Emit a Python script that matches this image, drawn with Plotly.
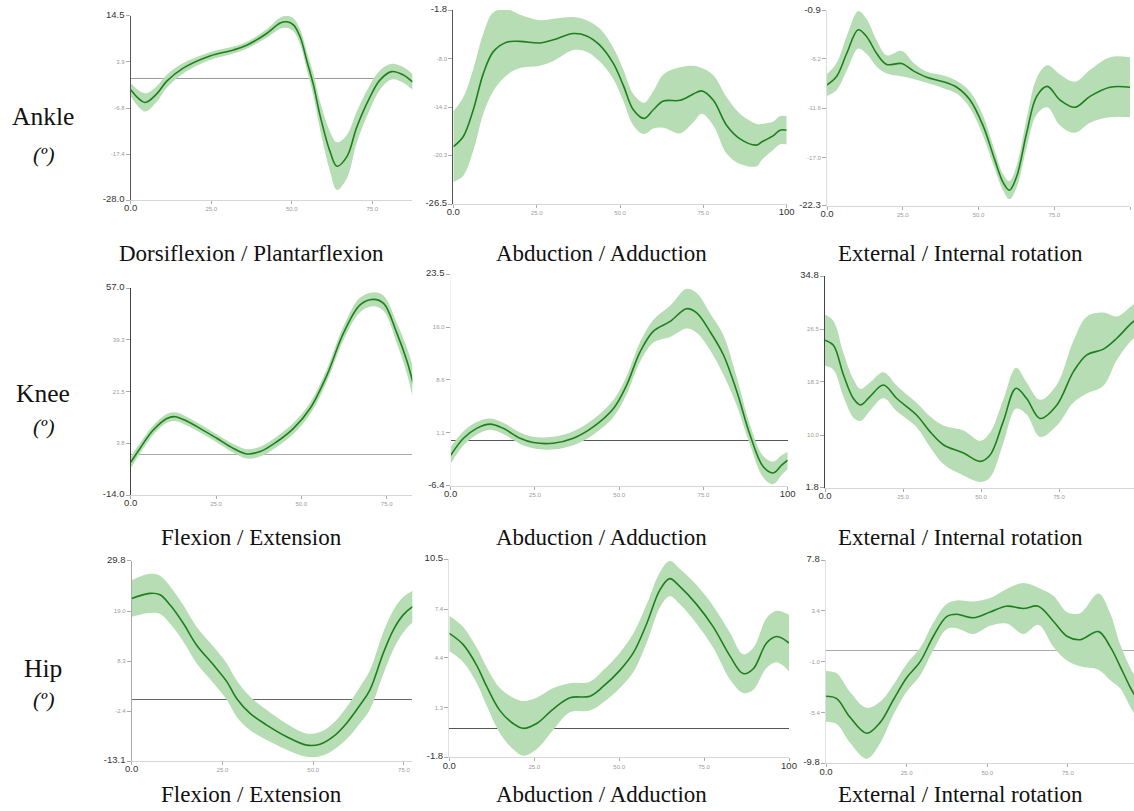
import plotly.graph_objects as go

# ---------------------------------------------------------------------------
# Gait-cycle joint angles (% of cycle on x, degrees on y): mean curve and SD
# ---------------------------------------------------------------------------

# Ankle - dorsiflexion / plantarflexion
ankle_dp_x = [0, 4.4, 8, 11.2, 16.3, 24.6, 31.9, 36, 42.2, 46.4, 48.5, 50.5, 52.6, 54.7,
              56.7, 58.8, 61.9, 64, 67.1, 70.2, 74.3, 77.4, 81, 84.7, 87.4, 90]
ankle_dp_mean = [-2.6, -5.5, -3.6, -0.6, 2.4, 5.2, 6.6, 7.7, 10.4, 12.8, 13.1, 12.4, 9.6, 4.0,
                 -1.4, -8.6, -16.9, -20.2, -18.0, -11.1, -4.2, -0.3, 1.6, 0.8, -0.7, -2.0]
ankle_dp_sd = [1.5, 2.1, 1.8, 1.5, 1.2, 0.9, 0.8, 0.8, 1.0, 1.3, 1.4, 1.5, 1.7, 2.1,
               2.6, 3.2, 4.6, 5.5, 5.0, 3.6, 2.8, 2.2, 1.8, 1.8, 1.8, 1.8]
ankle_dp_yticks = [-28.0, -17.4, -6.8, 3.9, 14.5]

# Ankle - abduction / adduction
ankle_aa_x = [0, 3, 6, 9, 12, 16, 20, 26, 30, 36, 40, 44, 48, 51, 54, 57.2, 60, 63, 68,
              72, 74.5, 78, 82, 86, 91, 92.5, 96, 98, 100]
ankle_aa_mean = [-19.2, -17.9, -14.5, -9.9, -7.1, -5.9, -5.8, -6.0, -5.6, -4.8, -5.1, -6.3,
                 -8.6, -11.4, -14.5, -15.6, -14.5, -13.4, -13.3, -12.5, -12.1, -13.3, -16.5,
                 -18.2, -19.0, -18.6, -17.8, -17.1, -17.1]
ankle_aa_sd = [4.5, 5.0, 5.2, 5.1, 5.0, 4.2, 3.4, 2.9, 2.7, 2.1, 2.0, 2.1, 2.0, 2.0, 2.0,
               2.0, 2.4, 3.4, 4.2, 3.6, 2.9, 3.2, 3.6, 3.2, 2.7, 2.3, 1.8, 1.8, 1.8]
ankle_aa_yticks = [-26.5, -20.3, -14.2, -8.0, -1.8]

# Ankle - external / internal rotation
ankle_ei_x = [0, 3.2, 6.5, 10.3, 13.1, 16.4, 19.7, 24.6, 28.5, 32.9, 38.4, 42.8, 47.2, 51.6,
              55.4, 58.2, 60.2, 62.6, 65.9, 69.2, 72.7, 76.9, 81.8, 86.8, 93.4, 100]
ankle_ei_mean = [-9.05, -8.1, -5.6, -3.0, -3.75, -5.6, -6.8, -6.7, -7.5, -8.2, -8.7, -9.3,
                 -10.7, -13.6, -17.3, -19.8, -20.6, -19.1, -14.3, -10.3, -9.2, -10.7, -11.5,
                 -10.3, -9.3, -9.3]
ankle_ei_sd = [1.2, 1.5, 1.9, 2.05, 1.9, 1.45, 1.0, 1.4, 0.9, 0.6, 0.7, 0.7, 0.9, 1.1,
               1.0, 0.9, 1.0, 1.2, 1.6, 2.0, 2.3, 2.8, 2.8, 2.9, 3.3, 3.3]
ankle_ei_yticks = [-22.3, -17.0, -11.6, -6.2, -0.9]

# Knee - flexion / extension
knee_fe_x = [0, 2.7, 6.6, 10.6, 13, 16.4, 20.3, 25.2, 30.1, 34, 37.9, 42.8, 47.7, 52.6,
             57.5, 62.3, 67.2, 71.1, 74.1, 78, 81, 82.5, 85]
knee_fe_mean = [-2.8, 2.0, 8.3, 12.3, 12.9, 11.4, 8.9, 5.5, 2.0, 0.1, 0.9, 4.3, 8.9, 15.8,
                27.2, 41.5, 51.3, 53.2, 51.8, 41.5, 31.8, 25.5, 15.0]
knee_fe_sd = [2.0, 1.8, 1.6, 1.5, 1.5, 1.5, 1.4, 1.4, 1.5, 1.6, 1.7, 1.8, 1.9, 2.0,
              2.2, 2.4, 2.5, 2.4, 2.6, 3.5, 4.5, 5.2, 5.5]
knee_fe_yticks = [-14.0, 3.8, 21.5, 39.3, 57.0]

# Knee - abduction / adduction
knee_aa_x = [0, 3.8, 7.7, 11.7, 15.6, 20.6, 24.5, 30.4, 36.4, 42.3, 48.3, 52.2, 56.2, 60.1,
             65.1, 70, 73, 76.9, 80.9, 84.9, 88.8, 92.7, 95.7, 98.2, 100]
knee_aa_mean = [-2.1, 0.3, 1.7, 2.3, 1.7, 0.3, -0.3, -0.4, 0.3, 1.9, 4.5, 7.8, 12.5, 15.4,
                16.8, 18.6, 18.0, 15.4, 12.1, 6.9, 0.8, -3.7, -4.6, -3.5, -2.8]
knee_aa_sd = [1.2, 1.0, 0.9, 0.8, 0.8, 0.8, 0.8, 0.9, 1.0, 1.1, 1.2, 1.3, 1.4, 1.6,
              2.2, 2.8, 2.8, 2.6, 2.8, 2.0, 1.4, 1.5, 1.6, 1.4, 1.2]
knee_aa_yticks = [-6.4, 1.1, 8.6, 16.0, 23.5]

# Knee - external / internal rotation
knee_ei_x = [0, 2.7, 5.9, 9.1, 11.4, 14.4, 18.7, 23, 29.4, 33.7, 37.9, 44.4, 49.7, 52.9,
             57.1, 61.2, 64.6, 68.9, 74.3, 79.6, 83.9, 89.2, 93.5, 98.1, 101]
knee_ei_mean = [24.8, 24.0, 19.4, 15.7, 14.7, 16.0, 17.8, 15.7, 13.1, 10.5, 8.5, 7.2, 5.9,
                6.9, 12.1, 17.3, 15.7, 12.6, 14.7, 19.9, 22.5, 23.4, 25.1, 27.4, 28.5]
knee_ei_sd = [4.0, 3.8, 3.4, 3.0, 2.5, 2.2, 2.0, 2.0, 1.9, 2.4, 3.0, 3.5, 3.2, 3.5,
              3.4, 3.2, 2.5, 2.9, 3.2, 4.8, 6.0, 5.7, 3.4, 2.7, 2.7]
knee_ei_yticks = [1.8, 10.0, 18.3, 26.5, 34.8]

# Hip - flexion / extension
hip_fe_x = [0, 5, 7.8, 10.6, 14.2, 17.9, 22.5, 26.2, 28.9, 32.6, 37.2, 42.7, 48.2, 51.9,
            55.5, 59.2, 62.9, 65.6, 69.3, 72.1, 74.8, 77.3, 80]
hip_fe_mean = [21.7, 22.8, 22.5, 20.3, 16.4, 11.7, 7.5, 3.9, 0.3, -2.9, -5.4, -7.9, -9.7,
               -9.5, -7.9, -5.0, -1.1, 2.1, 10.0, 15.0, 18.2, 19.9, 21.0]
hip_fe_sd = [3.9, 4.2, 4.1, 4.0, 3.9, 3.9, 3.9, 3.9, 3.9, 3.6, 3.2, 2.8, 2.5, 2.6,
             2.9, 3.4, 3.9, 4.2, 4.5, 4.2, 3.8, 3.4, 3.3]
hip_fe_yticks = [-13.1, -2.4, 8.3, 19.0, 29.8]

# Hip - abduction / adduction
hip_aa_x = [0, 4.1, 8.1, 11, 14.9, 18.8, 21.8, 25.7, 30.6, 35.5, 41.4, 45.3, 50.2, 54.2,
            58.1, 62, 64.9, 67.9, 72.8, 77.7, 82.6, 86.5, 89.5, 93.4, 96.4, 100]
hip_aa_mean = [5.9, 5.2, 3.9, 2.6, 1.1, 0.3, 0.0, 0.3, 1.2, 1.9, 2.0, 2.6, 3.6, 4.7,
               6.5, 8.6, 9.3, 8.8, 7.7, 6.3, 4.5, 3.4, 3.7, 5.3, 5.7, 5.3]
hip_aa_sd = [1.1, 1.1, 1.1, 1.2, 1.4, 1.6, 1.7, 1.6, 1.3, 0.9, 0.9, 1.0, 1.1, 1.2,
             1.2, 1.1, 1.1, 1.1, 1.2, 1.3, 1.45, 1.2, 1.3, 1.55, 1.6, 1.75]
hip_aa_yticks = [-1.8, 1.3, 4.4, 7.4, 10.5]

# Hip - external / internal rotation
hip_ei_x = [0, 3.3, 7.4, 12.6, 16.7, 20.9, 25, 29.2, 33.3, 37.4, 40.5, 45.7, 50.9, 56,
            61.2, 65.8, 70.5, 74.7, 78.8, 84.5, 88.1, 91.2, 94.3, 98]
hip_ei_mean = [-4.0, -4.2, -5.8, -7.2, -6.3, -4.3, -2.4, -1.0, 1.2, 2.9, 3.1, 2.8, 3.3, 3.8,
               3.6, 3.8, 2.5, 1.2, 0.9, 1.6, 0.3, -1.4, -3.2, -5.0]
hip_ei_sd = [2.2, 2.2, 2.2, 2.2, 1.8, 1.3, 1.2, 1.2, 1.2, 1.1, 1.2, 1.4, 1.2, 1.5,
             2.2, 1.6, 2.2, 2.1, 2.3, 3.3, 2.9, 1.9, 1.7, 1.7]
hip_ei_yticks = [-9.8, -5.4, -1.0, 3.4, 7.8]

# Shared x-axis ticks (% gait cycle)
cycle_ticks = [0, 25, 50, 75, 100]
cycle_labels = ["0.0", "25.0", "50.0", "75.0", "100"]

row_names = ["Ankle", "Knee", "Hip"]
panel_titles = [
    ["Dorsiflexion / Plantarflexion", "Abduction / Adduction", "External / Internal rotation"],
    ["Flexion / Extension", "Abduction / Adduction", "External / Internal rotation"],
    ["Flexion / Extension", "Abduction / Adduction", "External / Internal rotation"],
]

# ---------------------------------------------------------------------------
# Layout (pixel geometry of the 1134 x 811 canvas)
# ---------------------------------------------------------------------------
W, H = 1134, 811

panels = [
    # data, plot box (left, right, top, bottom) px, x extent, y-axis line colour, zero line colour
    dict(x=ankle_dp_x, m=ankle_dp_mean, s=ankle_dp_sd, yt=ankle_dp_yticks,
         box=(130.7, 412.3, 15.7, 200), xmax=87.4, axc="#555", zc="#9a9a9a"),
    dict(x=ankle_aa_x, m=ankle_aa_mean, s=ankle_aa_sd, yt=ankle_aa_yticks,
         box=(453.3, 786.7, 10, 204), xmax=100, axc="#555", zc="#888"),
    dict(x=ankle_ei_x, m=ankle_ei_mean, s=ankle_ei_sd, yt=ankle_ei_yticks,
         box=(827, 1130, 10.7, 205.7), xmax=100, axc="#ddd", zc="#888"),
    dict(x=knee_fe_x, m=knee_fe_mean, s=knee_fe_sd, yt=knee_fe_yticks,
         box=(130.7, 412.3, 288.3, 495), xmax=82.5, axc="#444", zc="#a8a8a8"),
    dict(x=knee_aa_x, m=knee_aa_mean, s=knee_aa_sd, yt=knee_aa_yticks,
         box=(450.7, 787.7, 274, 485.7), xmax=100, axc="#f2f2f2", zc="#555"),
    dict(x=knee_ei_x, m=knee_ei_mean, s=knee_ei_sd, yt=knee_ei_yticks,
         box=(825, 1134, 276, 487.7), xmax=99, axc="#444", zc="#888"),
    dict(x=hip_fe_x, m=hip_fe_mean, s=hip_fe_sd, yt=hip_fe_yticks,
         box=(131.7, 412.3, 560.7, 761), xmax=77.3, axc="#aaa", zc="#666"),
    dict(x=hip_aa_x, m=hip_aa_mean, s=hip_aa_sd, yt=hip_aa_yticks,
         box=(449.3, 789, 559.3, 757.3), xmax=100, axc="#e0e0e0", zc="#555"),
    dict(x=hip_ei_x, m=hip_ei_mean, s=hip_ei_sd, yt=hip_ei_yticks,
         box=(826, 1134, 560, 763.3), xmax=95.5, axc="#e0e0e0", zc="#aaa"),
]

title_x = [251, 601, 960]
title_y = [253, 537, 794]
row_label_y = [(117, 154), (393, 426), (668, 699)]

LINE_GREEN = "#1c801c"
BAND_GREEN = "rgb(183,221,180)"
TICK_FONT = "Liberation Sans, Arial, sans-serif"
SERIF = "Liberation Serif, Times New Roman, serif"


def big(t):
    return f'<span style="font-size:9.5px;color:#333">{t}</span>'


def tick_texts(values, fmt=True):
    out = []
    for i, v in enumerate(values):
        t = f"{v:.1f}" if fmt else v
        out.append(big(t) if i in (0, len(values) - 1) else t)
    return out


fig = go.Figure()
layout_axes = {}

for k, p in enumerate(panels):
    n = "" if k == 0 else str(k + 1)
    xa, ya = f"x{n}", f"y{n}"
    upper = [a + b for a, b in zip(p["m"], p["s"])]
    lower = [a - b for a, b in zip(p["m"], p["s"])]

    fig.add_trace(go.Scatter(x=p["x"], y=upper, mode="lines",
                             line=dict(width=0, shape="spline", smoothing=1.0, color=BAND_GREEN),
                             xaxis=xa, yaxis=ya, hoverinfo="skip", showlegend=False))
    fig.add_trace(go.Scatter(x=p["x"], y=lower, mode="lines", fill="tonexty",
                             fillcolor=BAND_GREEN,
                             line=dict(width=0, shape="spline", smoothing=1.0, color=BAND_GREEN),
                             xaxis=xa, yaxis=ya, hoverinfo="skip", showlegend=False))
    fig.add_trace(go.Scatter(x=p["x"], y=p["m"], mode="lines",
                             line=dict(width=1.6, shape="spline", smoothing=1.0, color=LINE_GREEN),
                             xaxis=xa, yaxis=ya, showlegend=False))

    l, r, t, b = p["box"]
    xkey = "xaxis" if k == 0 else f"xaxis{k + 1}"
    ykey = "yaxis" if k == 0 else f"yaxis{k + 1}"
    layout_axes[xkey] = dict(
        domain=[l / W, r / W], anchor=ya, range=[0, p["xmax"]],
        tickmode="array", tickvals=cycle_ticks, ticktext=tick_texts(cycle_labels, fmt=False),
        ticks="outside", ticklen=3, tickcolor="#aaa",
        tickfont=dict(family=TICK_FONT, size=6, color="#9a9a9a"),
        showline=True, linecolor="#d6d6d6", linewidth=1,
        showgrid=False, zeroline=False, automargin=False, fixedrange=True,
    )
    layout_axes[ykey] = dict(
        domain=[1 - b / H, 1 - t / H], anchor=xa, range=[p["yt"][0], p["yt"][-1]],
        tickmode="array", tickvals=p["yt"], ticktext=tick_texts(p["yt"]),
        ticks="outside", ticklen=4, tickcolor="#aaa",
        tickfont=dict(family=TICK_FONT, size=6, color="#9a9a9a"),
        showline=True, linecolor=p["axc"], linewidth=1,
        showgrid=False, zeroline=True, zerolinecolor=p["zc"], zerolinewidth=1.3,
        automargin=False, fixedrange=True,
    )

annotations = []
for ri in range(3):
    for ci in range(3):
        annotations.append(dict(
            text=panel_titles[ri][ci], x=title_x[ci] / W, y=1 - title_y[ri] / H,
            xref="paper", yref="paper", showarrow=False, xanchor="center", yanchor="middle",
            font=dict(family=SERIF, size=23, color="#111"),
        ))
    name_y, unit_y = row_label_y[ri]
    annotations.append(dict(
        text=row_names[ri], x=43 / W, y=1 - name_y / H, xref="paper", yref="paper",
        showarrow=False, xanchor="center", yanchor="middle",
        font=dict(family=SERIF, size=25.5, color="#111"),
    ))
    annotations.append(dict(
        text="<i>(º)</i>", x=43 / W, y=1 - unit_y / H, xref="paper", yref="paper",
        showarrow=False, xanchor="center", yanchor="middle",
        font=dict(family=SERIF, size=22, color="#111"),
    ))

fig.update_layout(
    width=W, height=H, margin=dict(l=0, r=0, t=0, b=0),
    paper_bgcolor="white", plot_bgcolor="white",
    showlegend=False, annotations=annotations, **layout_axes,
)

fig.write_html("out.html", config=dict(displayModeBar=False))
